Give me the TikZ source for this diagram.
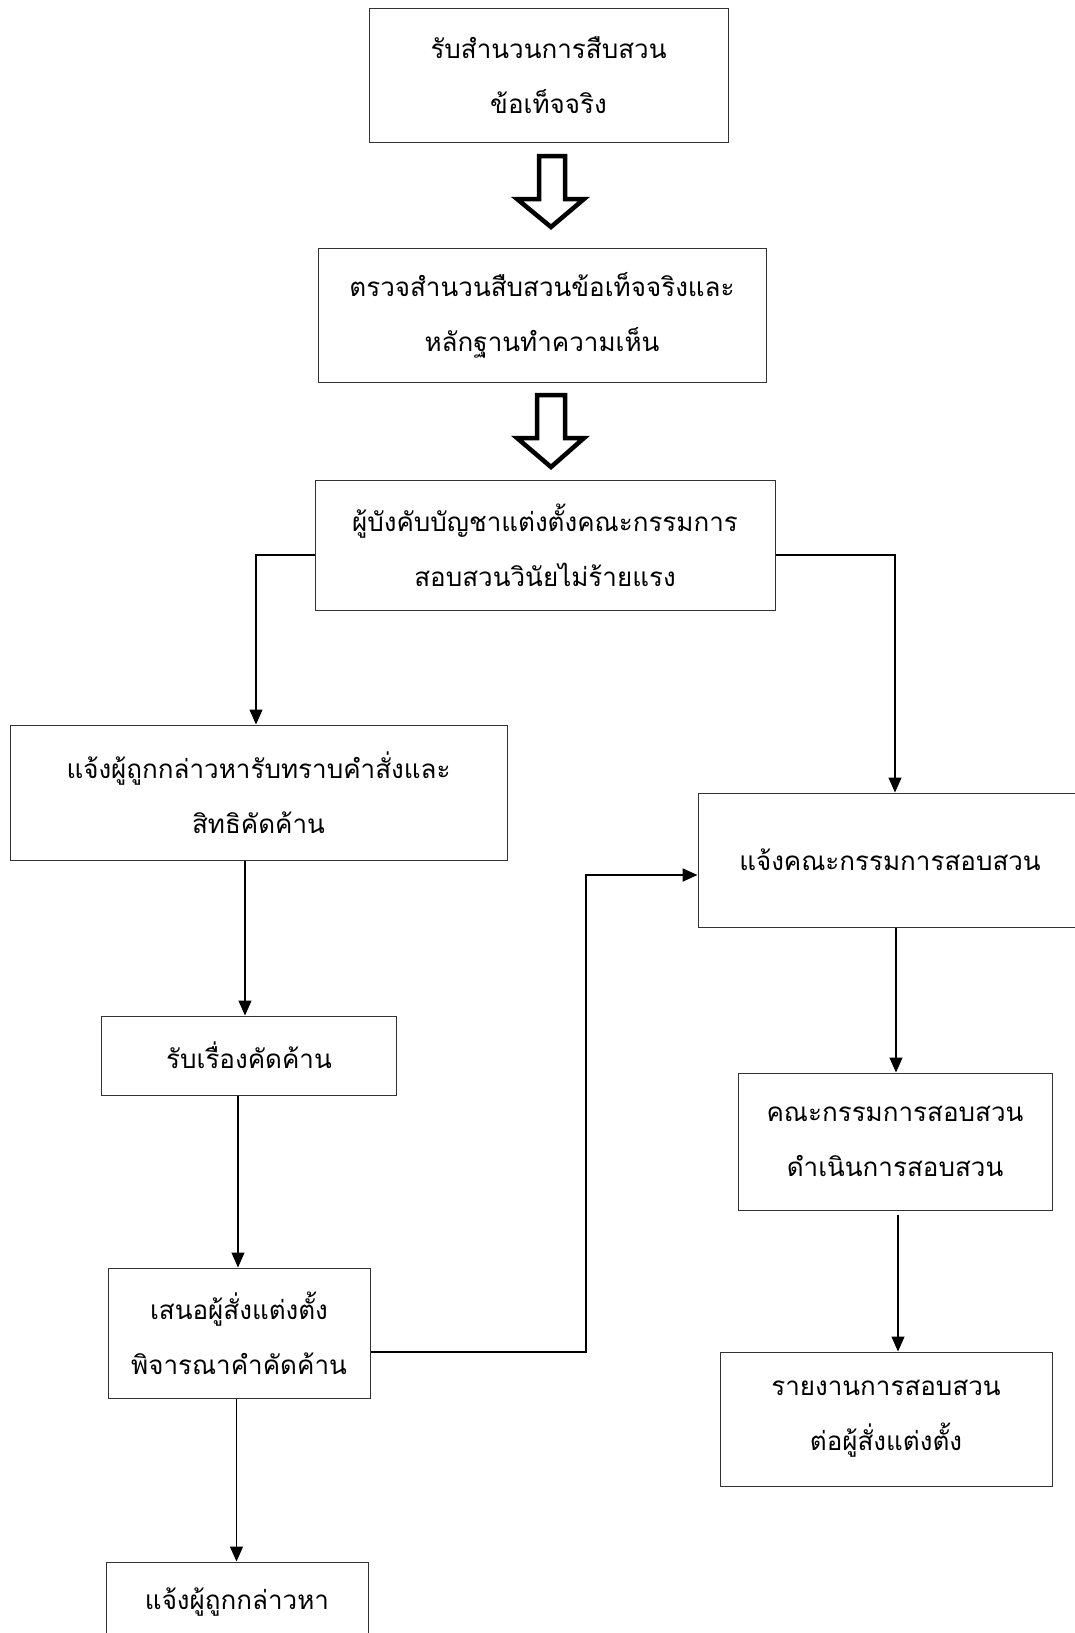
\documentclass[tikz,border=0pt]{standalone}
\usepackage{fontspec}
\newfontfamily\thaifont[Script=Thai]{Loma}
\usetikzlibrary{arrows.meta}
\tikzset{
  box/.style={draw=black!80, line width=1pt, rectangle, inner sep=0pt, align=center,
    font=\thaifont\fontsize{26}{55}\selectfont},
  conn/.style={line width=1.3pt, -{Triangle[length=15pt,width=13pt]}},
  thickconn/.style={line width=2.2pt, -{Triangle[length=15pt,width=13pt]}},
  blockarrow/.style={draw=black, line width=4.5pt, line join=miter, fill=white}
}
\begin{document}
\begin{tikzpicture}[x=1pt,y=-1pt]
\clip (0,0) rectangle (1075,1633);
\fill[white] (0,0) rectangle (1075,1633);

\node[box, minimum width=359pt, minimum height=134pt] (b1) at (548.5,75) {รับสำนวนการสืบสวน\\ข้อเท็จจริง};
\node[box, minimum width=448pt, minimum height=134pt] (b2) at (542,315) {ตรวจสำนวนสืบสวนข้อเท็จจริงและ\\หลักฐานทำความเห็น};
\node[box, minimum width=460pt, minimum height=130pt] (b3) at (545,545) {ผู้บังคับบัญชาแต่งตั้งคณะกรรมการ\\สอบสวนวินัยไม่ร้ายแรง};
\node[box, minimum width=497pt, minimum height=135pt] (b4) at (258.5,792.5) {แจ้งผู้ถูกกล่าวหารับทราบคำสั่งและ\\สิทธิคัดค้าน};
\node[box, minimum width=384pt, minimum height=134pt] (b5) at (890,860) {แจ้งคณะกรรมการสอบสวน};
\node[box, minimum width=294.5pt, minimum height=79pt] (b6) at (249,1055.5) {รับเรื่องคัดค้าน};
\node[box, minimum width=314pt, minimum height=137pt] (b7) at (895,1141.5) {คณะกรรมการสอบสวน\\ดำเนินการสอบสวน};
\node[box, minimum width=262pt, minimum height=130pt] (b8) at (239,1333) {เสนอผู้สั่งแต่งตั้ง\\พิจารณาคำคัดค้าน};
\node[box, minimum width=332pt, minimum height=134pt] (b9) at (886,1419) {รายงานการสอบสวน\\ต่อผู้สั่งแต่งตั้ง};
\node[box, minimum width=262pt, minimum height=80pt] (b10) at (237,1602) {แจ้งผู้ถูกกล่าวหา};

% block arrows
\draw[blockarrow] (539,156) -- (565,156) -- (565,199) -- (584,199) -- (551,227) -- (517,199) -- (539,199) -- cycle;
\draw[blockarrow] (537,395) -- (565,395) -- (565,438) -- (584,438) -- (551,467) -- (517,438) -- (537,438) -- cycle;

% coordinates
\coordinate (lb) at (256,555);
\coordinate (rb) at (895,555);
\coordinate (c46) at (245,0);
\coordinate (c68) at (238,0);
\coordinate (c810) at (236.5,0);
\coordinate (c57) at (896,0);
\coordinate (c79) at (898,0);
\coordinate (fb) at (586,1352);
\coordinate (ft) at (586,875);

\draw[conn] (b3.west |- lb) -- (lb) -- (lb |- b4.north);
\draw[conn] (b3.east |- rb) -- (rb) -- (rb |- b5.north);
\draw[conn] (b4.south -| c46) -- (b6.north -| c46);
\draw[conn] (b6.south -| c68) -- (b8.north -| c68);
\draw[conn] (b8.south -| c810) -- (b10.north -| c810);
\draw[conn] (b5.south -| c57) -- (b7.north -| c57);
\draw[conn] ([yshift=-4pt]b7.south -| c79) -- (b9.north -| c79);
\draw[thickconn] (b8.east |- fb) -- (fb) -- (ft) -- (b5.west |- ft);
\end{tikzpicture}
\end{document}
